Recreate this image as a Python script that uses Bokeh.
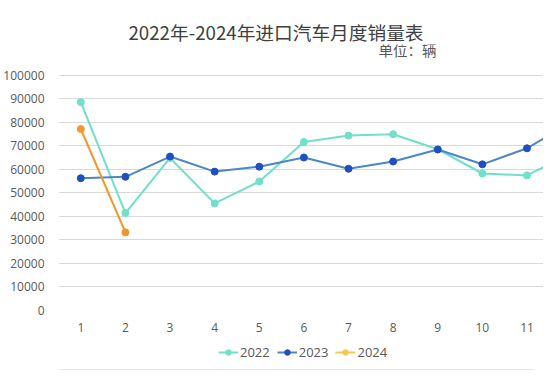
from bokeh.plotting import figure
from bokeh.layouts import column
from bokeh.models import (Range1d, FixedTicker, Title, Legend, LegendItem, Label, Span,
                          ColumnDataSource, NumeralTickFormatter)
from bokeh.embed import file_html
from bokeh.resources import INLINE

months = [1, 2, 3, 4, 5, 6, 7, 8, 9, 10, 11, 12]
sales_2022 = [88500, 41400, 64800, 45500, 54800, 71600, 74300, 74900, 68500, 58200, 57400, 67000]
sales_2023 = [56200, 56800, 65400, 59000, 61100, 65000, 60200, 63300, 68400, 62100, 68900, 80000]
months_2024 = [1, 2]
sales_2024 = [77100, 33200]
y_ticks = [0, 10000, 20000, 30000, 40000, 50000, 60000, 70000, 80000, 90000, 100000]
series_names = ["2022", "2023", "2024"]

title_text = "2022年-2024年进口汽车月度销量表"
unit_text = "单位：辆"

CJK = "Noto Sans CJK SC"
GREY = "#595959"

C22 = "#6fe0c9"
C23_LINE = "#4a86c8"
C23_DOT = "#1f4fc3"
C24 = "#f2972d"
C24_LEG = "#f7c948"

# ---------------- main chart ----------------
p = figure(frame_width=485, frame_height=266, output_backend="svg", toolbar_location=None,
           x_range=Range1d(0.5, 11.37), y_range=Range1d(0, 113000),
           title=None, min_border_left=0, min_border_right=0,
           min_border_top=44, min_border_bottom=0)
p.outline_line_color = None

main_title = Title(text=title_text, align="left", offset=70, text_font=CJK,
                   text_font_size="18.7px", text_font_style="normal",
                   text_color="#404040", standoff=0, text_line_height=1.0)
p.add_layout(main_title, "above")

unit_label = Label(x=7.67, y=110800, text=unit_text, text_font=CJK,
                   text_font_size="14.5px", text_color=GREY,
                   text_align="left", text_baseline="middle")
p.add_layout(unit_label)

for ax in (p.xaxis[0], p.yaxis[0]):
    ax.axis_line_color = None
    ax.major_tick_line_color = None
    ax.minor_tick_line_color = None
    ax.major_label_text_color = GREY
    ax.major_label_text_font = "Open Sans"
    ax.major_label_text_font_size = "12px"

p.xaxis.ticker = FixedTicker(ticks=months)
p.xaxis.major_label_standoff = 6
p.yaxis.ticker = FixedTicker(ticks=y_ticks)
p.yaxis.formatter = NumeralTickFormatter(format="0")
p.yaxis.major_label_standoff = 8

p.xgrid.grid_line_color = None
p.ygrid.grid_line_color = "#d9d9d9"

src22 = ColumnDataSource(dict(x=months, y=sales_2022))
src23 = ColumnDataSource(dict(x=months, y=sales_2023))
src24 = ColumnDataSource(dict(x=months_2024, y=sales_2024))

p.line("x", "y", source=src22, line_color=C22, line_width=2)
p.scatter("x", "y", source=src22, size=7, fill_color=C22, line_color=C22)
p.line("x", "y", source=src23, line_color=C23_LINE, line_width=2)
p.scatter("x", "y", source=src23, size=7, fill_color=C23_DOT, line_color=C23_DOT)
p.line("x", "y", source=src24, line_color=C24, line_width=2)
p.scatter("x", "y", source=src24, size=7, fill_color=C24, line_color=C24)

# ---------------- legend strip ----------------
leg = figure(width=534, height=36, output_backend="svg", toolbar_location=None,
             x_range=Range1d(0, 534), y_range=Range1d(0, 36),
             x_axis_location=None, y_axis_location=None,
             min_border_left=0, min_border_right=0, min_border_top=0, min_border_bottom=0)
leg.outline_line_color = None
leg.grid.grid_line_color = None

off = ColumnDataSource(dict(x=[-50], y=[-50]))
items = []
for name, lc, mc in zip(series_names, [C22, C23_LINE, C24_LEG], [C22, C23_DOT, C24_LEG]):
    r1 = leg.line("x", "y", source=off, line_color=lc, line_width=2)
    r2 = leg.scatter("x", "y", source=off, size=7, fill_color=mc, line_color=mc)
    items.append(LegendItem(label=name, renderers=[r1, r2]))

legend = Legend(items=items, orientation="horizontal", location=(160, 9),
                border_line_color=None, background_fill_alpha=0,
                label_text_font="Open Sans", label_text_font_size="13px",
                label_text_color=GREY, glyph_width=20, glyph_height=14,
                label_standoff=2, spacing=7, padding=4, margin=0)
leg.add_layout(legend, "center")
leg.add_layout(Span(location=1, dimension="width", line_color="#e6e6e6", line_width=1))

layout = column(p, leg, spacing=0)
open("out.html", "w").write(file_html(layout, INLINE))
